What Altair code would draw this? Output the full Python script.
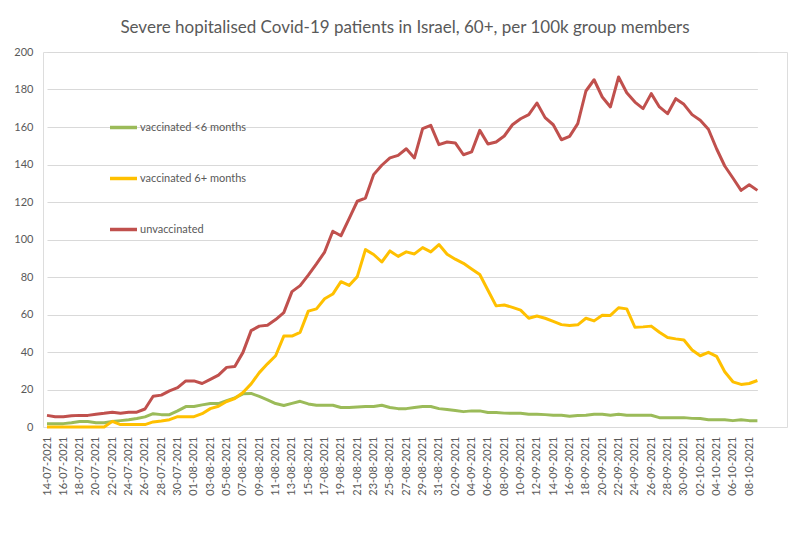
import altair as alt
import pandas as pd

# Category axis: one row per day
dates = [d.strftime("%d-%m-%Y") for d in pd.date_range("2021-07-14", "2021-10-09", freq="D")]
tick_labels = dates[0:87:2]  # every second day, 14-07-2021 ... 08-10-2021

series_names = ["vaccinated <6 months", "vaccinated 6+ months", "unvaccinated"]
series_colors = ["#9BBB59", "#FFC000", "#C0504D"]

vacc_lt6 = [1.8, 1.8, 1.8, 2.3, 2.9, 2.9, 2.3, 2.3, 2.9, 3.4, 3.9, 4.5, 5.4, 7.1, 6.6, 6.6, 8.6, 10.9, 10.9, 11.8,
            12.5, 12.5, 14.1, 15.5, 17.7, 17.9, 16.3, 14.5, 12.5, 11.5, 12.6, 13.7, 12.3, 11.6, 11.6, 11.6, 10.4, 10.4, 10.7, 10.9,
            10.9, 11.6, 10.4, 9.8, 9.8, 10.4, 10.9, 10.9, 9.8, 9.3, 8.75, 8.2, 8.6, 8.6, 7.7, 7.7, 7.4, 7.3, 7.3, 6.8,
            6.8, 6.6, 6.25, 6.25, 5.7, 6.1, 6.25, 6.8, 6.8, 6.25, 6.8, 6.25, 6.25, 6.25, 6.25, 5.0, 5.0, 5.0, 5.0, 4.6,
            4.5, 3.9, 3.9, 3.9, 3.4, 3.9, 3.4, 3.4]

vacc_6plus = [0, 0, 0, 0, 0, 0, 0, 0, 3.0, 1.3, 1.3, 1.3, 1.3, 2.7, 3.2, 3.9, 5.5, 5.5, 5.5, 7.1,
              9.8, 11.1, 13.6, 15.2, 18.4, 23.0, 29.0, 33.7, 38.0, 48.5, 48.5, 50.5, 61.8, 63.0, 68.4, 70.9, 77.5, 75.5, 80.2, 94.6,
              92.0, 88.0, 93.9, 91.0, 93.4, 92.3, 95.7, 93.4, 97.3, 92.1, 89.5, 87.3, 84.3, 81.3, 72.9, 64.6, 65.1, 63.8, 62.3, 58.0,
              59.2, 58.0, 56.3, 54.6, 54.1, 54.5, 58.0, 56.6, 59.6, 59.5, 63.6, 63.0, 53.2, 53.4, 53.8, 50.5, 47.7, 47.0, 46.4, 41.1,
              38.0, 39.8, 37.7, 29.5, 24.1, 22.7, 23.2, 24.8]

unvacc = [6.2, 5.5, 5.5, 6.0, 6.2, 6.2, 6.8, 7.3, 7.9, 7.3, 7.9, 7.9, 9.6, 16.4, 17.0, 19.3, 21.0, 24.6, 24.6, 23.2,
          25.4, 27.7, 31.8, 32.3, 39.8, 51.4, 53.8, 54.3, 57.3, 61.0, 72.2, 75.4, 81.0, 87.0, 93.3, 104.4, 102.0, 111.1, 120.4, 122.1,
          134.6, 139.6, 143.5, 144.9, 148.4, 143.5, 159.1, 160.9, 150.6, 152.0, 151.5, 145.2, 146.7, 158.2, 150.9, 152.0, 155.2, 161.2, 164.4, 166.6,
          172.8, 165.0, 161.2, 153.2, 155.0, 161.8, 179.2, 185.2, 176.0, 170.7, 186.7, 178.3, 173.3, 169.8, 177.8, 170.7, 167.1, 175.1, 172.1, 166.6,
          163.6, 158.8, 148.4, 139.2, 132.8, 126.2, 129.2, 126.2]

y_ticks = list(range(0, 201, 20))

rows = []
for name, vals in zip(series_names, [vacc_lt6, vacc_6plus, unvacc]):
    for d, v in zip(dates, vals):
        rows.append({"date": d, "value": v, "series": name})
df = pd.DataFrame(rows)

FONT = "Lato"
GREY = "#595959"
GRID = "#D9D9D9"

chart = alt.Chart(df).mark_line(strokeWidth=3, strokeJoin="round").encode(
    x=alt.X("date:O",
            sort=dates,
            scale=alt.Scale(type="point", domain=dates, range=[4, 714.4], padding=0),
            axis=alt.Axis(title=None, values=tick_labels, labelAngle=-90, labelFontSize=11,
                          labelColor=GREY, labelFont=FONT, ticks=False, domain=False,
                          grid=False, labelPadding=9, labelOverlap=False)),
    y=alt.Y("value:Q",
            scale=alt.Scale(domain=[0, 200], nice=False),
            axis=alt.Axis(title=None, values=y_ticks, labelFontSize=11, labelColor=GREY,
                          labelFont=FONT, ticks=False, domain=False, gridColor=GRID,
                          gridWidth=1, labelPadding=10)),
    color=alt.Color("series:N",
                    scale=alt.Scale(domain=series_names, range=series_colors),
                    sort=series_names,
                    legend=alt.Legend(title=None, orient="none", legendX=65, legendY=60,
                                      symbolType="stroke", symbolSize=729, symbolStrokeWidth=3.5,
                                      labelFontSize=11, labelColor=GREY, labelFont=FONT,
                                      rowPadding=28, labelOffset=1, padding=0)),
).properties(
    width=744,
    height=375,
    title=alt.Title("Severe hopitalised Covid-19 patients in Israel, 60+, per 100k group members",
                    fontSize=17, font=FONT, fontWeight="normal", color=GREY, offset=9, dx=-10),
    autosize=alt.AutoSizeParams(type="none"),
    padding={"left": 35, "top": 44, "right": 12, "bottom": 92},
).configure_view(stroke=None).configure(background="white")

chart.save("out.html", embed_options={"renderer": "svg", "actions": False})
